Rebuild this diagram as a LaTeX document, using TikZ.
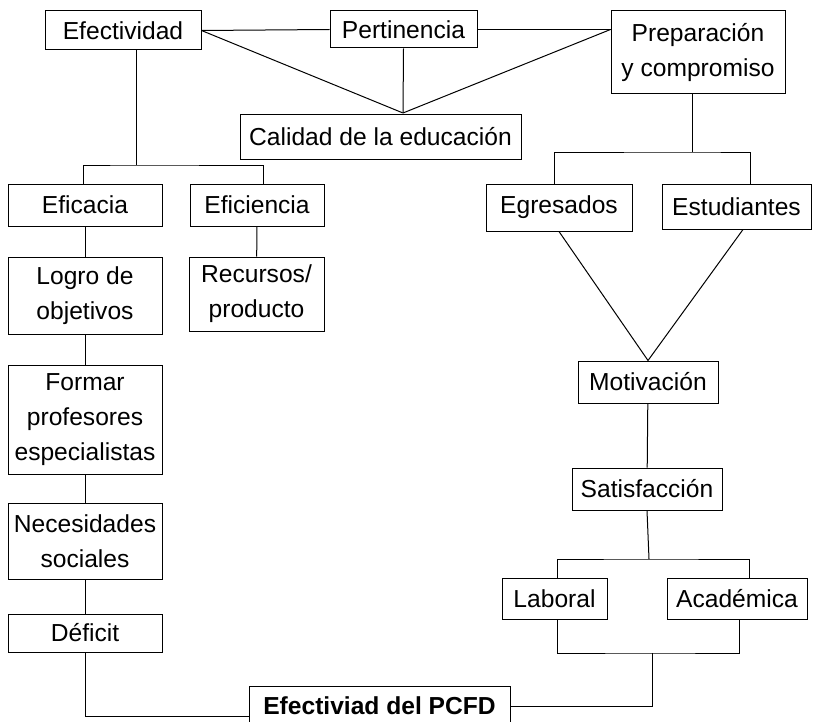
\documentclass[tikz,border=0pt]{standalone}
\usepackage{fontspec}
\setmainfont{Liberation Sans}
\usetikzlibrary{positioning}

\begin{document}
\begin{tikzpicture}[x=0.5pt, y=-0.5pt, b/.style={draw, line width=0.5pt, align=center, inner sep=0pt, font=\fontsize{12.3}{17.5}\selectfont}, l/.style={line width=0.5pt}]
		\useasboundingbox (0,0) rectangle (813,722);

		\node [b, minimum width=78pt, minimum height=19.5pt] (Efectividad) at (123,30.5) {Efectividad};
		\node [b, minimum width=73.5pt, minimum height=18.5pt] (Pertinencia) at (403.5,29.5) {Pertinencia};
		\node [b, minimum width=87pt, minimum height=41.5pt] (Preparacion) at (698,52.5) {Preparación\\y compromiso};
		\node [b, minimum width=140.5pt, minimum height=22pt] (Calidad) at (380.5,137) {Calidad de la educación};
		\node [b, minimum width=77pt, minimum height=21pt] (Eficacia) at (85,205) {Eficacia};
		\node [b, minimum width=67pt, minimum height=21pt] (Eficiencia) at (257,205) {Eficiencia};
		\node [b, minimum width=77pt, minimum height=38.5pt] (Logro) at (85,295.5) {Logro de\\objetivos};
		\node [b, minimum width=67.5pt, minimum height=37pt] (Recursos) at (256.5,294) {Recursos/\\producto};
		\node [b, minimum width=77pt, minimum height=54.5pt] (Formar) at (85,419.5) {Formar\\profesores\\especialistas};
		\node [b, minimum width=77pt, minimum height=38pt] (Necesidades) at (85,541) {Necesidades\\sociales};
		\node [b, minimum width=77pt, minimum height=19pt] (Deficit) at (85,633) {Déficit};
		\node [b, minimum width=130.5pt, minimum height=20pt, font=\fontsize{12.3}{17.5}\selectfont\bfseries] (PCFD) at (379.5,706) {Efectiviad del PCFD};
		\node [b, minimum width=73pt, minimum height=23.5pt] (Egresados) at (559,207.5) {Egresados};
		\node [b, minimum width=74.5pt, minimum height=22.5pt] (Estudiantes) at (736.5,206.5) {Estudiantes};
		\node [b, minimum width=70pt, minimum height=21pt] (Motivacion) at (648,382) {Motivación};
		\node [b, minimum width=75pt, minimum height=21pt] (Satisfaccion) at (647,489) {Satisfacción};
		\node [b, minimum width=52.5pt, minimum height=20.5pt] (Laboral) at (554.5,598.5) {Laboral};
		\node [b, minimum width=70pt, minimum height=20.5pt] (Academica) at (737,598.5) {Académica};

		\coordinate (apex) at (403,113);
		\coordinate (j1) at (136,165);
		\coordinate (j2) at (692,152);
		\coordinate (j3) at (649,559);
		\coordinate (j4) at (652,653);

		% calidad
		\draw [l] (Efectividad.east) -- (Pertinencia.west);
		\draw [l] (Pertinencia.east) -- (Preparacion.west |- Pertinencia.east);
		\draw [l] (Efectividad.east) -- (apex);
		\draw [l] (Pertinencia.south) -- (apex);
		\draw [l] (Preparacion.west |- Pertinencia.east) -- (apex);

		% rama izquierda
		\draw [l] (Efectividad.south -| j1) -- (j1);
		\draw [l] ([xshift=-1pt]Eficacia.north) |- (j1) -| ([xshift=3pt]Eficiencia.north);
		\draw [l] (Eficacia) -- (Logro);
		\draw [l] (Eficiencia) -- (Recursos);
		\draw [l] (Logro) -- (Formar);
		\draw [l] (Formar) -- (Necesidades);
		\draw [l] (Necesidades) -- (Deficit);
		\draw [l] (Deficit.south) |- ([yshift=-5pt]PCFD.west);

		% rama derecha
		\draw [l] (Preparacion.south -| j2) -- (j2);
		\draw [l] ([xshift=-2.5pt]Egresados.north) |- (j2) -| ([xshift=6.75pt]Estudiantes.north);
		\draw [l] (Egresados.south) -- (Motivacion.north) -- ([xshift=3.25pt]Estudiantes.south);
		\draw [l] (Motivacion) -- (Satisfaccion);
		\draw [l] (Satisfaccion.south) -- (j3);
		\draw [l] ([xshift=1.25pt]Laboral.north) |- (j3) -| ([xshift=6pt]Academica.north);
		\draw [l] ([xshift=1.25pt]Laboral.south) |- (j4) -| ([xshift=1pt]Academica.south);
		\draw [l] (j4) |- (PCFD.east);
	\end{tikzpicture}
\end{document}
